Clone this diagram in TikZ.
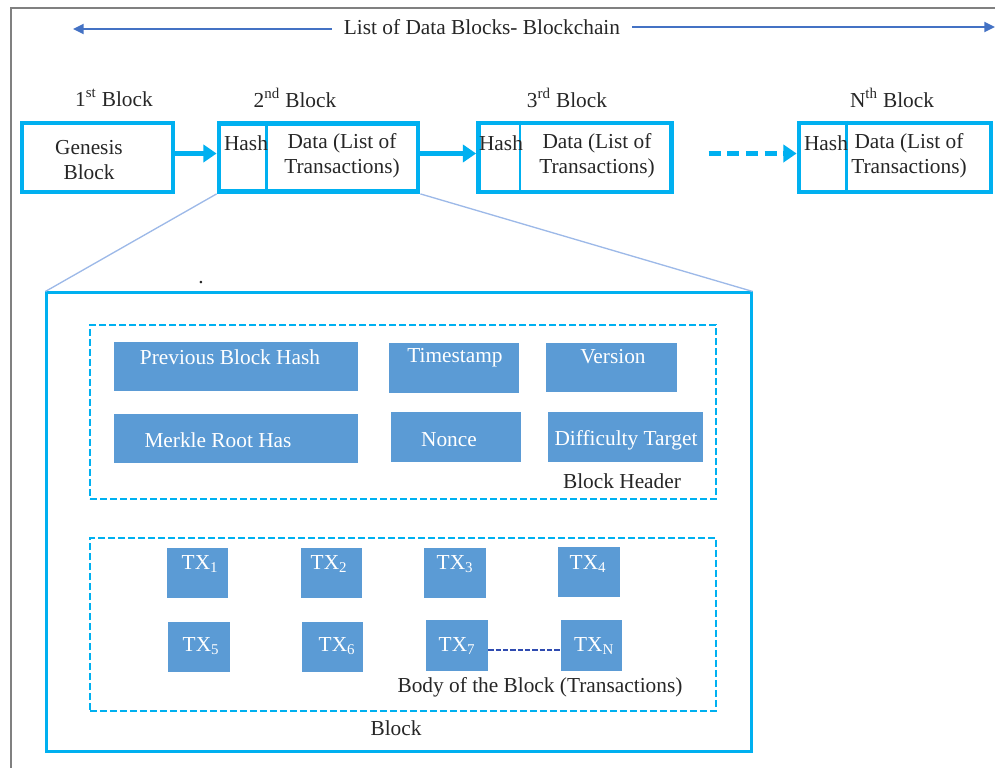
\documentclass[tikz,border=0pt]{standalone}
\usepackage{fontspec}
\setmainfont{Liberation Serif}
\usetikzlibrary{arrows.meta}
\definecolor{cyanB}{HTML}{00B0F0}
\definecolor{fillB}{HTML}{5B9BD5}
\definecolor{arrowB}{HTML}{4472C4}
\definecolor{funnelB}{HTML}{9DB9E8}
\definecolor{navyB}{HTML}{2F4BB0}
\definecolor{frameG}{HTML}{808080}
\begin{document}
\begin{tikzpicture}[x=0.75pt,y=-0.75pt,
  every node/.style={font=\fontsize{16}{19}\selectfont, inner sep=0pt, text=black!85},
  box/.style 2 args={minimum width=0.75*#1pt, minimum height=0.75*#2pt},
  chainbox/.style={draw=cyanB, line width=3.6pt, rectangle},
  chainline/.style={draw=cyanB, line width=2pt},
  bigarrow/.style={draw=cyanB, line width=3.8pt, -{Triangle[length=10pt,width=13pt]}},
  toparrow/.style={draw=arrowB, line width=1.6pt, -{Triangle[length=8pt,width=7.5pt]}},
  hb/.style={fill=fillB, rectangle},
  ht/.style={text=white},
  dbox/.style={draw=cyanB, line width=2.2pt, dash pattern=on 5pt off 2.5pt, rectangle},
  funnel/.style={draw=funnelB, line width=1pt}
]
\useasboundingbox (0,0) rectangle (995,768);
% outer frame
\draw[frameG, line width=2.2pt] (995,8) -- (11,8) -- (11,768);

% title with arrows
\node[inner xsep=9pt] (title) at (482,27) {List of Data Blocks- Blockchain};
\coordinate (tl) at (73,29);
\coordinate (tr) at (995,27);
\draw[toparrow] (title.west |- tl) -- (tl);
\draw[toparrow] (title.east |- tr) -- (tr);

% block labels
\node (l1) at (114,98) {1\textsuperscript{st} Block};
\node (l2) at (295,98) {2\textsuperscript{nd} Block};
\node (l3) at (567,98) {3\textsuperscript{rd} Block};
\node (lN) at (892,98) {N\textsuperscript{th} Block};

% genesis
\node[chainbox, box={151}{69}] (gen) at (97.5,157.5) {};
\node[align=center] (gent) at (89,160) {Genesis\\Block};

% 2nd block
\node[chainbox, box={199}{68}] (b2) at (318.5,157.5) {};
\draw[chainline] ([xshift=37.5pt]b2.north west) -- ([xshift=37.5pt]b2.south west);
\node (b2h) at (246,143) {Hash};
\node[align=center] (b2d) at (342,156) {Data (List of\\Transactions)};

% 3rd block
\node[chainbox, box={193}{69}] (b3) at (575,157.5) {};
\draw[chainline] ([xshift=33pt]b3.north west) -- ([xshift=33pt]b3.south west);
\node (b3h) at (501,143) {Hash};
\node[align=center] (b3d) at (597,156) {Data (List of\\Transactions)};

% Nth block
\node[chainbox, box={192}{69}] (bN) at (895,157.5) {};
\draw[chainline] ([xshift=37.5pt]bN.north west) -- ([xshift=37.5pt]bN.south west);
\node (bNh) at (826,143) {Hash};
\node[align=center] (bNd) at (909,156) {Data (List of\\Transactions)};

% chain arrows
\draw[bigarrow] ([yshift=3pt]gen.east) -- ([yshift=3pt]b2.west);
\draw[bigarrow] ([yshift=3pt]b2.east) -- ([yshift=3pt]b3.west);
\draw[bigarrow, dash pattern=on 9pt off 5pt, shorten <=26pt] ([yshift=3pt]b3.east) -- ([yshift=3pt]bN.west);

% big block
\node[draw=cyanB, line width=1.6pt, rectangle, box={705}{459}] (big) at (399,522) {};
\draw[funnel] (b2.south west) -- (big.north west);
\draw[funnel] (b2.south east) -- (big.north east);
\node (dot) at (201,283) {.};

% block header
\node[dbox, box={626}{174}] (hdr) at (403,412) {};
\node[hb, box={244}{49}] (pbh) at (236,366.5) {};
\node[ht] (pbht) at (230,357) {Previous Block Hash};
\node[hb, box={130}{50}] (ts) at (454,368) {};
\node[ht] (tst) at (455,358) {Timestamp};
\node[hb, box={131}{49}] (ver) at (611.5,367.5) {};
\node[ht] (vert) at (613,357) {Version};
\node[hb, box={244}{49}] (mrh) at (236,438.5) {};
\node[ht] (mrht) at (218,440) {Merkle Root Has};
\node[hb, box={130}{50}] (non) at (456,437) {};
\node[ht] (nont) at (449,440) {Nonce};
\node[hb, box={155}{50}] (dt) at (625.5,437) {};
\node[ht] (dtt) at (626,440) {Difficulty Target};
\node (bh) at (622,481) {Block Header};

% body
\node[dbox, box={626}{173}] (body) at (403,624.5) {};
\node[hb, box={61}{50}] (tx1) at (197,573) {};
\node[ht] (tx1t) at (200,564) {TX\textsubscript{1}};
\node[hb, box={61}{50}] (tx2) at (331.5,573) {};
\node[ht] (tx2t) at (329,564) {TX\textsubscript{2}};
\node[hb, box={62}{50}] (tx3) at (455,573) {};
\node[ht] (tx3t) at (455,564) {TX\textsubscript{3}};
\node[hb, box={62}{50}] (tx4) at (589,572) {};
\node[ht] (tx4t) at (588,564) {TX\textsubscript{4}};
\node[hb, box={62}{50}] (tx5) at (199,647) {};
\node[ht] (tx5t) at (201,646) {TX\textsubscript{5}};
\node[hb, box={61}{50}] (tx6) at (332.5,647) {};
\node[ht] (tx6t) at (337,646) {TX\textsubscript{6}};
\node[hb, box={62}{51}] (tx7) at (457,645.5) {};
\node[ht] (tx7t) at (457,646) {TX\textsubscript{7}};
\node[hb, box={61}{51}] (txN) at (591.5,645.5) {};
\node[ht] (txNt) at (594,646) {TX\textsubscript{N}};
\draw[navyB, line width=1.5pt, dash pattern=on 4pt off 1.5pt] ([yshift=-3pt]tx7.east) -- ([yshift=-3pt]txN.west);
\node (bodyt) at (540,687) {Body of the Block (Transactions)};
\node (blockt) at (396,728) {Block};
\end{tikzpicture}
\end{document}
